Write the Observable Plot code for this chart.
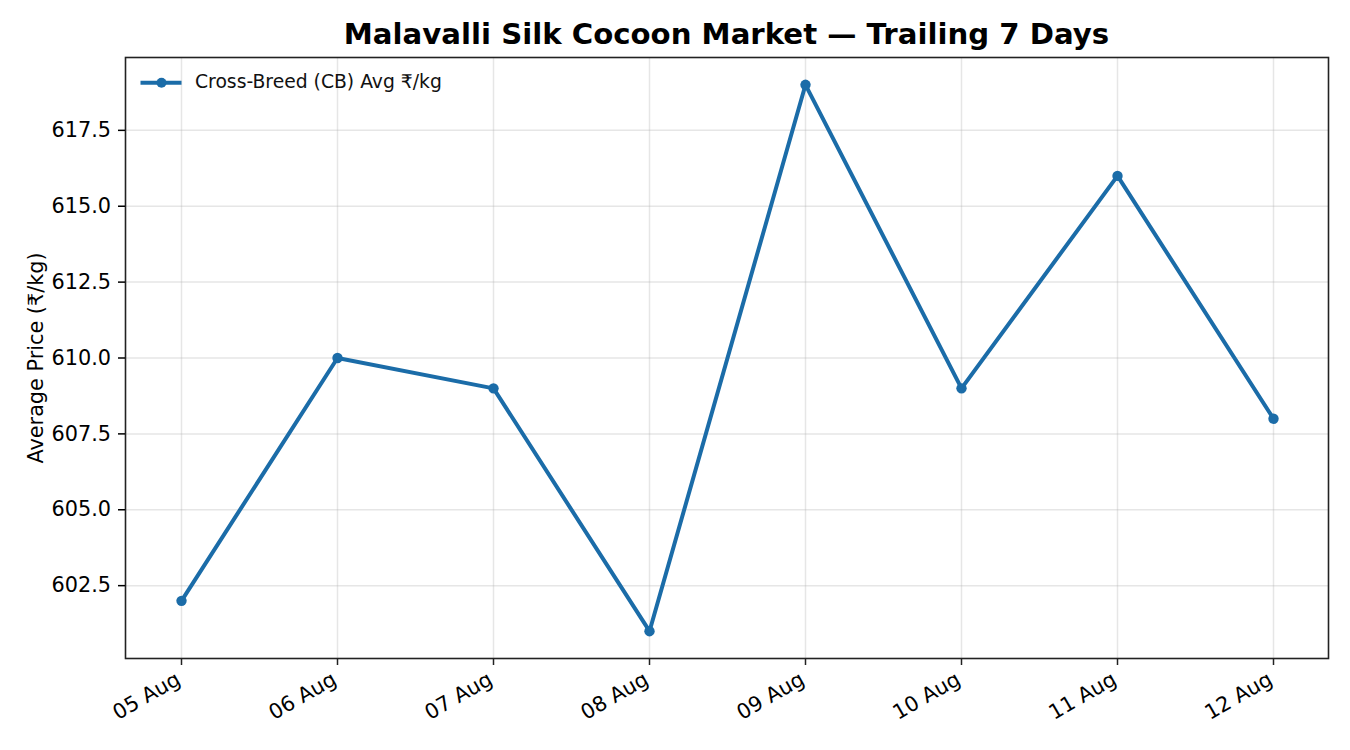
<!DOCTYPE html>
<html><head><meta charset="utf-8">
<script src="https://cdn.jsdelivr.net/npm/d3@7"></script>
<script src="https://cdn.jsdelivr.net/npm/@observablehq/plot@0.6"></script>
<style>
body{margin:0;background:#fff;font-family:"DejaVu Sans",sans-serif;}
#wrap{position:relative;width:1350px;height:750px;}
#title{position:absolute;left:125px;width:1203px;top:17.4px;text-align:center;font-weight:bold;font-size:29.2px;line-height:34px;color:#000;white-space:nowrap;}
#legsym{position:absolute;left:140px;top:70px;}
#legtxt{position:absolute;left:195px;top:70.8px;font-size:18.75px;line-height:22px;color:#111;white-space:nowrap;}
</style></head>
<body>
<div id="wrap">
<div id="title">Malavalli Silk Cocoon Market — Trailing 7 Days</div>
<svg id="legsym" width="42" height="26"><line x1="0.5" y1="12.7" x2="41.5" y2="12.7" stroke="#1b6ca8" stroke-width="4"/><circle cx="21.5" cy="12.7" r="5" fill="#1b6ca8"/></svg>
<div id="legtxt">Cross-Breed (CB) Avg ₹/kg</div>
</div>
<script>
const dates = ["05 Aug","06 Aug","07 Aug","08 Aug","09 Aug","10 Aug","11 Aug","12 Aug"];
const prices = [602, 610, 609, 601, 619, 609, 616, 608];
const yTicks = [602.5, 605, 607.5, 610, 612.5, 615, 617.5];
const yLabel = "Average Price (₹/kg)";
const seriesColor = "#1b6ca8";
const data = dates.map((d, i) => ({date: d, price: prices[i]}));

const chart = Plot.plot({
  width: 1350, height: 750,
  marginLeft: 125, marginRight: 22, marginTop: 57, marginBottom: 92,
  style: {fontFamily: "DejaVu Sans", fontSize: "20.8px", background: "white", color: "#222"},
  x: {type: "point", domain: dates, padding: 0.35, align: 0.5},
  y: {domain: [600.1, 619.9]},
  marks: [
    Plot.gridX(dates, {stroke: "#b0b0b0", strokeOpacity: 0.32, strokeWidth: 1.5}),
    Plot.gridY(yTicks, {stroke: "#b0b0b0", strokeOpacity: 0.32, strokeWidth: 1.5}),
    Plot.line(data, {x: "date", y: "price", stroke: seriesColor, strokeWidth: 4}),
    Plot.dot(data, {x: "date", y: "price", r: 5.2, fill: seriesColor, stroke: "none"}),
    Plot.frame({stroke: "#222", strokeWidth: 1.6}),
    Plot.axisY({ticks: yTicks, tickFormat: d3.format(".1f"), tickSize: 7, tickPadding: 7.5, strokeWidth: 1.5, label: null, fontSize: 20.8, color: "#000"}),
    Plot.axisX({tickSize: 7, strokeWidth: 1.5, tickFormat: () => "", label: null}),
    Plot.text(dates, {x: d => d, text: d => d, frameAnchor: "bottom", dx: -7, dy: 12, rotate: -30, textAnchor: "end", lineAnchor: "top", fontSize: 20.8, fill: "#000"}),
    Plot.text([yLabel], {text: d => d, frameAnchor: "left", dx: -88.7, rotate: -90, textAnchor: "middle", lineAnchor: "middle", fontSize: 20.8, fill: "#000"})
  ]
});
document.getElementById("wrap").prepend(chart);
</script>
</body></html>
